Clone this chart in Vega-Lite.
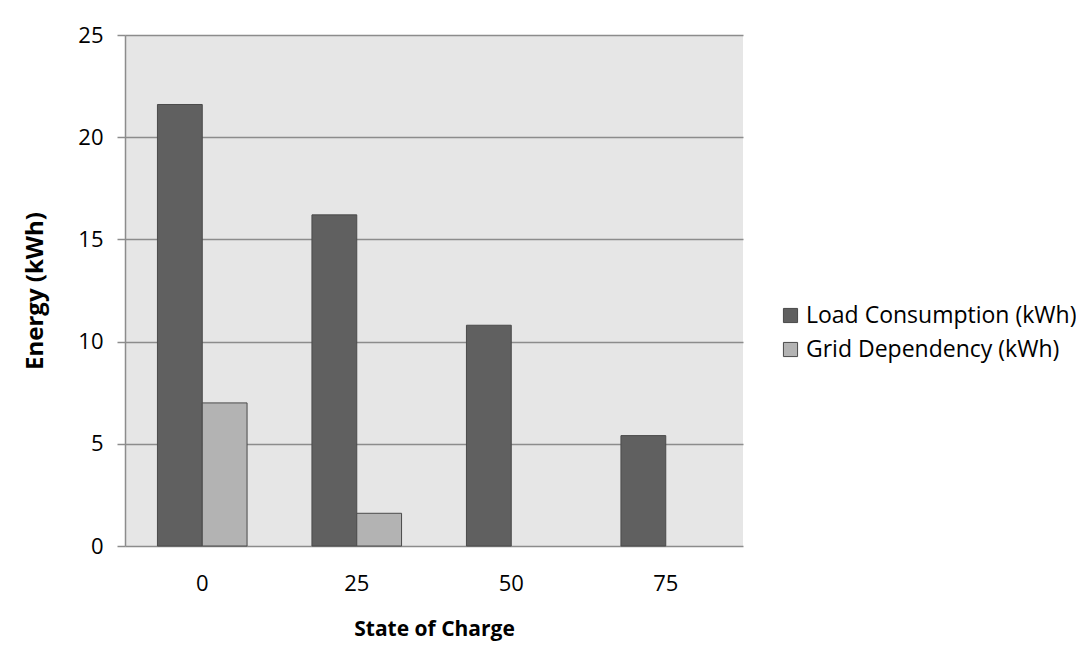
{
  "$schema": "https://vega.github.io/schema/vega-lite/v6.json",
  "autosize": "none",
  "width": 618,
  "height": 511,
  "padding": {"left": 125, "top": 35, "right": 333, "bottom": 118},
  "background": "white",
  "data": {"values": [
    {"soc": 0, "series": "Load Consumption (kWh)", "energy": 21.6},
    {"soc": 0, "series": "Grid Dependency (kWh)", "energy": 7.0},
    {"soc": 25, "series": "Load Consumption (kWh)", "energy": 16.2},
    {"soc": 25, "series": "Grid Dependency (kWh)", "energy": 1.6},
    {"soc": 50, "series": "Load Consumption (kWh)", "energy": 10.8},
    {"soc": 50, "series": "Grid Dependency (kWh)", "energy": 0},
    {"soc": 75, "series": "Load Consumption (kWh)", "energy": 5.4},
    {"soc": 75, "series": "Grid Dependency (kWh)", "energy": 0}
  ]},
  "transform": [{"filter": "datum.energy > 0"}],
  "config": {
    "view": {"fill": "#e6e6e6", "stroke": null},
    "font": "Open Sans"
  },
  "mark": {"type": "bar", "stroke": "#4a4a4a", "strokeWidth": 1},
  "encoding": {
    "x": {
      "field": "soc", "type": "ordinal",
      "scale": {"domain": [0, 25, 50, 75], "paddingInner": 0.42, "paddingOuter": 0.21},
      "axis": {
        "title": "State of Charge", "labelAngle": 0, "tickSize": 0, "domain": false,
        "labelFontSize": 22, "labelColor": "#000", "labelPadding": 27,
        "titleFontSize": 21, "titleFontWeight": "bold", "titleColor": "#000", "titlePadding": 24
      }
    },
    "xOffset": {"field": "series", "type": "nominal", "scale": {"domain": ["Load Consumption (kWh)", "Grid Dependency (kWh)"]}},
    "y": {
      "field": "energy", "type": "quantitative",
      "scale": {"domain": [0, 25], "nice": false},
      "axis": {
        "title": "Energy (kWh)", "values": [0, 5, 10, 15, 20, 25],
        "grid": true, "gridColor": "#8c8c8c", "gridWidth": 1.5, "gridOpacity": 1,
        "domain": true, "domainColor": "#8c8c8c", "domainWidth": 1.5,
        "tickColor": "#8c8c8c", "tickSize": 8, "tickWidth": 1.5,
        "labelFontSize": 22, "labelColor": "#000", "labelPadding": 14,
        "titleFontSize": 24, "titleFontWeight": "bold", "titleColor": "#000", "titleX": -78
      }
    },
    "color": {
      "field": "series", "type": "nominal",
      "scale": {"domain": ["Load Consumption (kWh)", "Grid Dependency (kWh)"], "range": ["#606060", "#b3b3b3"]},
      "legend": {
        "title": null, "orient": "none", "legendX": 654, "legendY": 269,
        "symbolType": "square", "symbolSize": 200, "symbolStrokeColor": "#4a4a4a", "symbolStrokeWidth": 1,
        "labelFontSize": 23, "labelColor": "#000", "rowPadding": 10, "labelOffset": 4, "labelLimit": 400
      }
    }
  }
}
